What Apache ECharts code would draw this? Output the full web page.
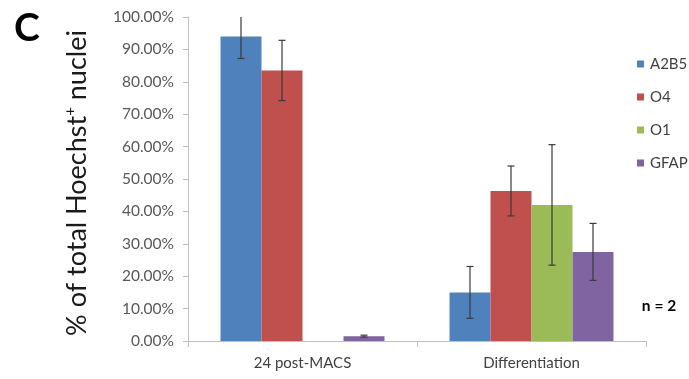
<!DOCTYPE html>
<html>
<head>
<meta charset="utf-8">
<script src="https://cdn.jsdelivr.net/npm/echarts@6/dist/echarts.min.js"></script>
<style>
  html, body { margin: 0; padding: 0; background: #fff; }
  #chart { width: 689px; height: 379px; }
</style>
</head>
<body>
<div id="chart"></div>
<script>
// Percent of Hoechst+ nuclei per marker, with error bar half-widths
const categories = ['24 post-MACS', 'Differentiation'];
const markers = ['A2B5', 'O4', 'O1', 'GFAP'];
const colors = ['#4F81BD', '#C0504D', '#9BBB59', '#8064A2'];

const a2b5 = [94.0, 15.0];
const o4 = [83.5, 46.3];
const o1 = [null, 42.0];
const gfap = [1.5, 27.5];

const a2b5Err = [6.8, 8.0];
const o4Err = [9.3, 7.7];
const o1Err = [null, 18.6];
const gfapErr = [0.3, 8.8];

const yTicks = [0, 10, 20, 30, 40, 50, 60, 70, 80, 90, 100];

const values = [a2b5, o4, o1, gfap];
const errors = [a2b5Err, o4Err, o1Err, gfapErr];

const BAR_W = 41;
const FONT = 'Lato, "Open Sans", sans-serif';

const chart = echarts.init(document.getElementById('chart'));

const barSeries = markers.map((name, i) => ({
  name: name,
  type: 'bar',
  data: values[i],
  barWidth: BAR_W,
  barGap: '0%',
  itemStyle: { color: colors[i] },
  emphasis: { disabled: true }
}));

// One custom series per marker draws its whisker on top of the bar
const errSeries = markers.map((name, i) => ({
  type: 'custom',
  name: name + '-err',
  z: 5,
  data: categories.map((c, k) => [k, values[i][k], errors[i][k]]),
  renderItem: function (params, api) {
    const k = api.value(0);
    const v = api.value(1);
    const e = api.value(2);
    if (v == null || isNaN(v) || e == null || isNaN(e)) return null;
    const base = api.coord([k, v]);
    const x = base[0] + (i - 1.5) * BAR_W;
    const yMax = yTicks[yTicks.length - 1];
    const hiVal = Math.min(v + e, yMax);
    const hiCapped = v + e <= yMax;
    const yHi = api.coord([k, hiVal])[1];
    const yLo = api.coord([k, v - e])[1];
    const cap = 3.5;
    const style = { stroke: '#3a3a3a', lineWidth: 1.2 };
    const children = [
      { type: 'line', shape: { x1: x, y1: yHi, x2: x, y2: yLo }, style: style },
      { type: 'line', shape: { x1: x - cap, y1: yLo, x2: x + cap, y2: yLo }, style: style }
    ];
    if (hiCapped) {
      children.push({ type: 'line', shape: { x1: x - cap, y1: yHi, x2: x + cap, y2: yHi }, style: style });
    }
    return { type: 'group', children: children };
  }
}));

chart.setOption({
  animation: false,
  backgroundColor: '#ffffff',
  grid: { left: 188, right: 43, top: 17, bottom: 38, containLabel: false },
  legend: {
    data: markers,
    orient: 'vertical',
    left: 632,
    top: 50,
    icon: 'rect',
    itemWidth: 7,
    itemHeight: 7,
    itemGap: 15,
    textStyle: { fontFamily: FONT, fontSize: 15, color: '#404040', lineHeight: 18, padding: [0, 0, 0, 1] }
  },
  xAxis: {
    type: 'category',
    data: categories,
    axisLine: { lineStyle: { color: '#BFBFBF', width: 1 } },
    axisTick: { show: true, length: 6, lineStyle: { color: '#BFBFBF' } },
    axisLabel: { fontFamily: FONT, fontSize: 15, color: '#404040', margin: 15 }
  },
  yAxis: {
    type: 'value',
    min: 0,
    max: 100,
    interval: 10,
    splitLine: { show: false },
    axisLine: { show: true, lineStyle: { color: '#BFBFBF', width: 1 } },
    axisTick: { show: true, length: 5, lineStyle: { color: '#BFBFBF' } },
    axisLabel: {
      fontFamily: FONT, fontSize: 15.5, color: '#595959', margin: 14,
      formatter: v => v.toFixed(2) + '%'
    }
  },
  graphic: [
    {
      type: 'text',
      x: 27, y: 28,
      style: {
        text: 'C', fontFamily: FONT, fontWeight: 'bold', fontSize: 39,
        fill: '#000', align: 'center', verticalAlign: 'middle'
      }
    },
    {
      type: 'text',
      x: 77, y: 183,
      rotation: Math.PI / 2,
      style: {
        text: '% of total Hoechst{sup|+} nuclei',
        fontFamily: FONT, fontSize: 27, fill: '#1a1a1a',
        align: 'center', verticalAlign: 'middle',
        rich: { sup: { fontFamily: FONT, fontSize: 15, fill: '#1a1a1a', verticalAlign: 'top', padding: [0, 0, 14, 0] } }
      }
    },
    {
      type: 'text',
      x: 659, y: 306,
      style: {
        text: 'n = 2', fontFamily: FONT, fontWeight: 'bold', fontSize: 15.5,
        fill: '#000', align: 'center', verticalAlign: 'middle'
      }
    }
  ],
  series: barSeries.concat(errSeries)
});
</script>
</body>
</html>
